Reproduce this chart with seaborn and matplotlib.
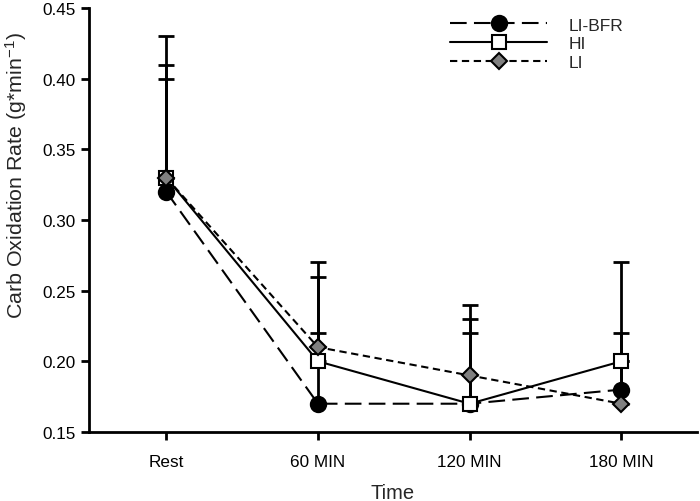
import numpy as np
import pandas as pd
import matplotlib.pyplot as plt
import seaborn as sns

# valores
times = ['Rest', '60 MIN', '120 MIN', '180 MIN']
li_bfr = [0.32, 0.17, 0.17, 0.18]
hi = [0.33, 0.20, 0.17, 0.20]
li = [0.33, 0.21, 0.19, 0.17]
# barras de erro (só para cima)
li_bfr_err = [0.08, 0.05, 0.05, 0.04]
hi_err = [0.10, 0.06, 0.06, 0.07]
li_err = [0.08, 0.06, 0.05, 0.03]

sns.set_style('ticks')
plt.rcParams['font.family'] = ['Liberation Sans', 'DejaVu Sans']
plt.rcParams['mathtext.default'] = 'regular'

fig = plt.figure(figsize=(7, 5.02), dpi=100)
ax = fig.add_axes([0.127, 0.1375, 0.869, 0.8445])

x = np.arange(len(times))
series = [
    ('LI-BFR', li_bfr, li_bfr_err, 'o', 'black', 11, (8, 3.5)),
    ('HI', hi, hi_err, 's', 'white', 9.5, None),
    ('LI', li, li_err, 'D', 'gray', 8.5, (3.5, 2.2)),
]

handles = []
for name, vals, err, mk, fc, ms, dash in series:
    df = pd.DataFrame({'Time': x, 'Rate': vals})
    ax.errorbar(x, vals, yerr=[np.zeros(len(err)), err], fmt='none',
                ecolor='black', elinewidth=2, capsize=5.5, capthick=2, zorder=2)
    sns.lineplot(data=df, x='Time', y='Rate', ax=ax, color='black', lw=1.5,
                 marker=mk, markersize=ms, markerfacecolor=fc,
                 markeredgecolor='black', markeredgewidth=1.5, zorder=3)
    line = ax.lines[-1]
    if dash:
        line.set_dashes(dash)
    handles.append(line)

ax.legend(handles, ['LI-BFR', 'HI', 'LI'], loc='upper right',
          bbox_to_anchor=(0.878, 0.978), frameon=False, fontsize=12.5,
          borderpad=0, borderaxespad=0,
          handlelength=5.6, handletextpad=1.2, labelspacing=0.22)

ax.set_xlim(-0.51, 3.5)
ax.set_ylim(0.15, 0.45)
ax.set_xticks(x)
ax.set_xticklabels(times)
ax.set_yticks(np.arange(0.15, 0.451, 0.05))
ax.set_yticklabels([f'{v:.2f}' for v in np.arange(0.15, 0.451, 0.05)])
ax.tick_params(labelsize=12.3, width=2, length=6, color='black', labelcolor='black')
ax.tick_params(axis='x', pad=10)
for s in ['left', 'bottom']:
    ax.spines[s].set_linewidth(2)
    ax.spines[s].set_color('black')
sns.despine(ax=ax)

ax.set_xlabel('Time', fontsize=14.5, labelpad=10)
ax.set_ylabel('Carb Oxidation Rate (g*min$^{-1}$)', fontsize=15.4)
ax.yaxis.set_label_coords(-0.098, 0.608)

plt.savefig('out.png', dpi=100)
